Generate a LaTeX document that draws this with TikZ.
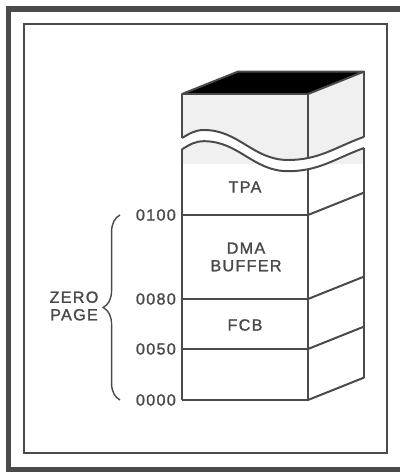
\documentclass[tikz,border=0pt]{standalone}
\usepackage{fontspec}
\newfontfamily\gothic[LetterSpace=8,FakeBold=1.4]{Liberation Sans}
\usetikzlibrary{decorations.pathreplacing}
\definecolor{ink}{HTML}{4A4A4A}
\definecolor{paper}{HTML}{F0F0F0}

\begin{document}
\begin{tikzpicture}[x=1cm,y=1cm,line width=1.4pt,every node/.style={font=\gothic\fontsize{11.5}{12.5}\selectfont,text=ink,inner sep=0pt},addr/.style={anchor=east},edge/.style={ink,line join=round}]
\path[use as bounding box] (0,0) rectangle (10,11.8);

% frames
\draw[ink,line width=4pt] (.21,.06) rectangle (10.3,11.575);
\draw[ink,line width=1.1pt] (.6,.475) rectangle (9.675,11.2);

% upper piece, shaded
\fill[paper] (4.55,9.45) -- (7.7,9.45) -- (9.1,10.01) -- (9.1,8.38) to[out=200,in=0] (7.2,7.8) to[out=180,in=0] (5.1,8.55) to[out=180,in=30] (4.55,8.35) -- cycle;
\begin{scope}
\clip (4.55,7.72) rectangle (9.1,8.5);
\fill[paper] (4.55,8.07) to[out=30,in=180] (5.1,8.27) to[out=0,in=180] (7.2,7.52) to[out=0,in=200] (9.1,8.10) -- (9.1,7) -- (4.55,7) -- cycle;
\end{scope}
\filldraw[edge,fill=black] (4.55,9.45) -- (7.7,9.45) -- (9.1,10.01) -- (5.95,10.01) -- cycle;

% edges, broken at the gap
\begin{scope}
\clip (3,11) -- (3,8.35) -- (4.55,8.35) to[out=30,in=180] (5.1,8.55) to[out=0,in=180] (7.2,7.8) to[out=0,in=200] (9.1,8.38) -- (10,8.38) -- (10,11) -- cycle
      (3,0) -- (3,8.07) -- (4.55,8.07) to[out=30,in=180] (5.1,8.27) to[out=0,in=180] (7.2,7.52) to[out=0,in=200] (9.1,8.10) -- (10,8.10) -- (10,0) -- cycle;
\draw[edge] (4.55,9.45) -- (4.55,1.8);
\draw[edge] (7.7,9.45) -- (7.7,1.8);
\draw[edge] (9.1,10.01) -- (9.1,2.36);
\end{scope}
\draw[edge] (4.55,8.35) to[out=30,in=180] (5.1,8.55) to[out=0,in=180] (7.2,7.8) to[out=0,in=200] (9.1,8.38);
\draw[edge] (4.55,8.07) to[out=30,in=180] (5.1,8.27) to[out=0,in=180] (7.2,7.52) to[out=0,in=200] (9.1,8.10);

% dividers
\draw[edge] (4.55,6.425) -- (7.7,6.425) -- (9.1,6.985);
\draw[edge] (4.55,4.325) -- (7.7,4.325) -- (9.1,4.885);
\draw[edge] (4.55,3.075) -- (7.7,3.075) -- (9.1,3.635);
\draw[edge] (4.55,1.8) -- (7.7,1.8) -- (9.1,2.36);

\node (tpa) at (6.125,7.125) {TPA};
\node[align=center] (dma) at (6.15,5.375) {DMA\\BUFFER};
\node (fcb) at (6.125,3.675) {FCB};

\node[addr] (a100) at (4.42,6.425) {0100};
\node[addr] (a80) at (4.42,4.325) {0080};
\node[addr] (a50) at (4.42,3.075) {0050};
\node[addr] (a0) at (4.42,1.8) {0000};

\coordinate (zlo) at (3,1.8);
\coordinate (zhi) at (3,6.425);
\draw[ink,line width=1pt,decorate,decoration={brace,amplitude=12pt}] (zlo) -- (zhi);
\node[align=center] (zero) at (1.85,4.15) {ZERO\\PAGE};

\end{tikzpicture}
\end{document}
